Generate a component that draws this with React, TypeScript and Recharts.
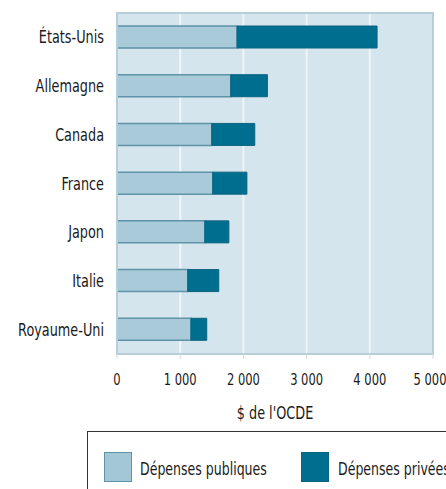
import { Bar, BarChart, CartesianGrid, ReferenceArea, XAxis, YAxis } from "recharts"

const countries = ["États-Unis", "Allemagne", "Canada", "France", "Japon", "Italie", "Royaume-Uni"]
const publicSpending = [1900, 1800, 1500, 1515, 1390, 1120, 1170]
const privateSpending = [2215, 580, 680, 540, 380, 490, 250]
const xTicks = [0, 1000, 2000, 3000, 4000, 5000]

const data = countries.map((name, i) => ({
    name,
    pub: publicSpending[i],
    priv: privateSpending[i],
}))

const font = "'DejaVu Sans Condensed', 'Liberation Sans Narrow', sans-serif"
const fmt = (v: number) => v.toLocaleString("fr-FR").replace(/\u202f|\u00a0/g, " ")

// narrow, tall lettering like the original
function CountryTick(props: any) {
    const { x, y, payload } = props
    return (
        <g transform={`translate(${x},${y}) scale(0.84,1)`}>
            <text x={0} y={0} dy="0.36em" textAnchor="end" fill="#1a1a1a" fontSize={17} fontFamily={font}>
                {payload.value}
            </text>
        </g>
    )
}

function ValueTick(props: any) {
    const { x, y, payload } = props
    return (
        <g transform={`translate(${x},${y}) scale(0.8,1)`}>
            <text x={0} y={0} dy="0.71em" textAnchor="middle" fill="#1a1a1a" fontSize={16} fontFamily={font}>
                {fmt(payload.value)}
            </text>
        </g>
    )
}

function AxisTitle(props: any) {
    const { viewBox } = props
    const cx = viewBox.x + viewBox.width / 2
    const y = viewBox.y + viewBox.height
    return (
        <g transform={`translate(${cx},${y}) scale(0.84,1)`}>
            <text x={0} y={0} dy="0.3em" textAnchor="middle" fill="#1a1a1a" fontSize={17} fontFamily={font}>
                $ de l'OCDE
            </text>
        </g>
    )
}

const legendText = {
    position: "absolute" as const,
    top: 27,
    fontSize: 17,
    color: "#1a1a1a",
    whiteSpace: "nowrap" as const,
    transform: "scaleX(0.82)",
    transformOrigin: "left center",
}

export default function App() {
    return (
        <div style={{ position: "absolute", left: 0, top: 0, width: 446, height: 489, overflow: "hidden", background: "#fff", fontFamily: font }}>
            <BarChart
                width={446}
                height={430}
                data={data}
                layout="vertical"
                margin={{ top: 13, right: 13, bottom: 16, left: 0 }}
                barSize={22}
            >
                <CartesianGrid horizontal={false} stroke="#eef5f8" strokeWidth={2} fill="#d5e5ed" />
                <ReferenceArea x1={0} x2={5000} fill="none" stroke="#b7cdd8" strokeWidth={2} />
                <XAxis
                    type="number"
                    domain={[0, 5000]}
                    ticks={xTicks}
                    axisLine={{ stroke: "#b7cdd8", strokeWidth: 2 }}
                    tickLine={{ stroke: "#cfdde4" }}
                    tickSize={5}
                    tickMargin={15}
                    height={60}
                    tick={<ValueTick />}
                    label={<AxisTitle />}
                />
                <YAxis
                    type="category"
                    dataKey="name"
                    width={117}
                    axisLine={{ stroke: "#b7cdd8", strokeWidth: 2 }}
                    tickLine={false}
                    tickMargin={7}
                    tick={<CountryTick />}
                />
                <Bar dataKey="pub" stackId="a" fill="#a9cad8" stroke="#5f93a9" strokeWidth={1.5} isAnimationActive={false} />
                <Bar dataKey="priv" stackId="a" fill="#006e8f" stroke="#0a6480" strokeWidth={1} isAnimationActive={false} />
            </BarChart>
            <div style={{ position: "absolute", left: 87, top: 431, width: 400, height: 70, border: "1px solid #333", boxSizing: "border-box" }}>
                <div style={{ position: "absolute", left: 16, top: 20, width: 26, height: 28, background: "#a3c7d6", border: "1.5px solid #5f93a9" }} />
                <div style={{ ...legendText, left: 52 }}>Dépenses publiques</div>
                <div style={{ position: "absolute", left: 213, top: 20, width: 26, height: 28, background: "#006e8f", border: "1.5px solid #0a6480" }} />
                <div style={{ ...legendText, left: 250 }}>Dépenses privées</div>
            </div>
        </div>
    )
}
